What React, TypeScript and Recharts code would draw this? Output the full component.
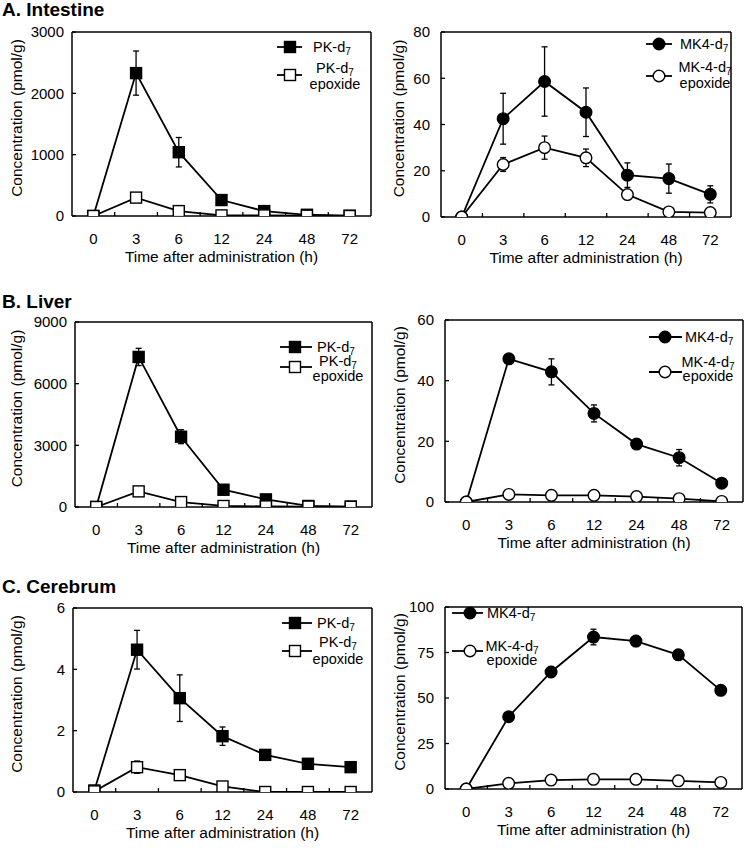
import React from "react";
import { LineChart, Line, XAxis, YAxis, ErrorBar, Legend } from "recharts";

const times = ["0", "3", "6", "12", "24", "48", "72"];

// A. Intestine
const pkIntestine = [0, 2330, 1040, 260, 80, 20, 5];
const pkIntestineSd = [0, 360, 240, 40, 20, 5, 0];
const pkEpoxIntestine = [0, 300, 80, 10, 10, 5, 0];
const pkEpoxIntestineSd = [0, 40, 20, 0, 0, 0, 0];
const mkIntestine = [0, 42.5, 58.6, 45.3, 18.1, 16.6, 9.8];
const mkIntestineSd = [0, 11, 15, 10.5, 5.3, 6.3, 3.7];
const mkEpoxIntestine = [0, 22.7, 30, 25.6, 9.7, 2.2, 1.9];
const mkEpoxIntestineSd = [0, 3, 5, 3.8, 1, 0.3, 0.3];

// B. Liver
const pkLiver = [0, 7300, 3420, 840, 370, 50, 20];
const pkLiverSd = [0, 420, 340, 80, 40, 10, 0];
const pkEpoxLiver = [0, 760, 240, 50, 30, 20, 10];
const pkEpoxLiverSd = [0, 60, 30, 0, 0, 0, 0];
const mkLiver = [0, 47.2, 42.9, 29.2, 19.1, 14.6, 6.2];
const mkLiverSd = [0, 0.6, 4.3, 2.8, 1.4, 2.7, 0.5];
const mkEpoxLiver = [0, 2.5, 2.2, 2.2, 1.8, 1.1, 0.2];
const mkEpoxLiverSd = [0, 0.3, 0.3, 0.3, 0.2, 0.2, 0];

// C. Cerebrum
const pkCerebrum = [0.05, 4.64, 3.06, 1.82, 1.21, 0.92, 0.81];
const pkCerebrumSd = [0, 0.63, 0.76, 0.3, 0.08, 0.06, 0.05];
const pkEpoxCerebrum = [0.02, 0.81, 0.55, 0.18, 0, 0, 0];
const pkEpoxCerebrumSd = [0, 0.2, 0.05, 0.03, 0, 0, 0];
const mkCerebrum = [0, 39.7, 64.3, 83.5, 81.3, 73.7, 54.2];
const mkCerebrumSd = [0, 1, 3, 4.3, 3, 1.5, 1];
const mkEpoxCerebrum = [0, 3.1, 4.9, 5.3, 5.3, 4.5, 3.6];
const mkEpoxCerebrumSd = [0, 0.3, 0.4, 0.4, 0.3, 0.3, 0.2];

const ticksIntestinePk = [0, 1000, 2000, 3000];
const ticksIntestineMk = [0, 20, 40, 60, 80];
const ticksLiverPk = [0, 3000, 6000, 9000];
const ticksLiverMk = [0, 20, 40, 60];
const ticksCerebrumPk = [0, 2, 4, 6];
const ticksCerebrumMk = [0, 25, 50, 75, 100];

const FONT = "'Liberation Sans', Arial, sans-serif";
const XH = 56;

const rows = (a: number[], aSd: number[], b: number[], bSd: number[]) =>
  times.map((t, i) => ({ time: t, main: a[i], mainSd: aSd[i], epox: b[i], epoxSd: bSd[i] }));

function squareDot(filled: boolean) {
  return (p: any) => {
    if (p.cx == null || p.cy == null) return <g key={p.index} />;
    return (
      <rect
        key={p.index}
        x={p.cx - 5.5}
        y={p.cy - 5.5}
        width={11}
        height={11}
        fill={filled ? "#000" : "#fff"}
        stroke="#000"
        strokeWidth={1.4}
      />
    );
  };
}

function Marker({ kind, filled, x, y }: any) {
  if (kind === "square")
    return <rect x={x - 5.5} y={y - 5.5} width={11} height={11} fill={filled ? "#000" : "#fff"} stroke="#000" strokeWidth={1.4} />;
  return <circle cx={x} cy={y} r={5.8} fill={filled ? "#000" : "#fff"} stroke="#000" strokeWidth={1.4} />;
}

function Sub7({ name }: { name: string }) {
  return (
    <>
      {name}
      <tspan fontSize={10} dy={3}>7</tspan>
    </>
  );
}

function LegendBox({ cfg, kind, name1, name2, sx, sy, sw, sh }: any) {
  const ox = (v: number) => v - sx;
  const oy = (v: number) => v - sy;
  return (
    <svg width={sw} height={sh} style={{ position: "absolute", left: 0, top: 0, fontFamily: FONT }}>
      <line x1={ox(cfg.lx0)} x2={ox(cfg.lx1)} y1={oy(cfg.y1)} y2={oy(cfg.y1)} stroke="#000" strokeWidth={1.8} />
      <Marker kind={kind} filled x={ox(cfg.mx)} y={oy(cfg.y1)} />
      <text x={ox(cfg.tx)} y={oy(cfg.y1) + 5} fontSize={14.5} fill="#000">
        <Sub7 name={name1} />
      </text>
      <line x1={ox(cfg.lx0)} x2={ox(cfg.lx1)} y1={oy(cfg.y2)} y2={oy(cfg.y2)} stroke="#000" strokeWidth={1.8} />
      <Marker kind={kind} filled={false} x={ox(cfg.mx)} y={oy(cfg.y2)} />
      <text x={ox(cfg.t2x)} y={oy(cfg.t2y1) + 5} fontSize={14.5} fill="#000" textAnchor="middle">
        <Sub7 name={name2} />
      </text>
      <text x={ox(cfg.t2x)} y={oy(cfg.t2y2) + 5} fontSize={14.5} fill="#000" textAnchor="middle">
        epoxide
      </text>
    </svg>
  );
}

function Panel({ data, ticks, yMax, box, org, kind, legend, tickGap, ylabX }: any) {
  const { x0, y0, x1, y1 } = box;
  const { sx, sy, sw, sh } = org;
  const pw = x1 - x0;
  const bw = pw / times.length;
  // the top x axis and right y axis each take 1px to draw the frame
  const margin = { top: y0 - sy - 1, right: sx + sw - x1 - 1, left: 0, bottom: sy + sh - y1 - XH };
  const isSquare = kind === "square";
  const name1 = isSquare ? "PK-d" : "MK4-d";
  const name2 = isSquare ? "PK-d" : "MK-4-d";
  const axisStyle = { stroke: "#000", strokeWidth: 1.5 };
  const renderTick = (p: any) => {
    const axisY = p.y - 17;
    return (
      <g key={p.index}>
        <text x={p.x} y={p.y} dy="0.71em" textAnchor="middle" fontSize={15} fill="#000" fontFamily={FONT}>
          {p.payload.value}
        </text>
        {p.index < times.length - 1 && (
          <line x1={p.x + bw / 2} x2={p.x + bw / 2} y1={axisY} y2={axisY - 4} stroke="#000" strokeWidth={1.3} />
        )}
      </g>
    );
  };
  return (
    <div style={{ position: "absolute", left: sx, top: sy, width: sw, height: sh }}>
      <LineChart width={sw} height={sh} data={data} margin={margin} style={{ fontFamily: FONT }}>
        <XAxis
          xAxisId="top"
          orientation="top"
          dataKey="time"
          height={1}
          tick={false}
          tickLine={false}
          axisLine={axisStyle}
          padding={{ left: bw / 2, right: bw / 2 }}
        />
        <YAxis
          yAxisId="right"
          orientation="right"
          width={1}
          type="number"
          domain={[0, 1]}
          tick={false}
          tickLine={false}
          axisLine={axisStyle}
        />
        <XAxis
          dataKey="time"
          height={XH}
          tickLine={false}
          tickSize={0}
          tickMargin={17}
          tick={renderTick}
          interval={0}
          axisLine={axisStyle}
          padding={{ left: bw / 2, right: bw / 2 }}
          label={{ value: "Time after administration (h)", position: "insideBottom", offset: 10, fontSize: 15.5, fill: "#000" }}
        />
        <YAxis
          type="number"
          width={x0 - sx}
          domain={[0, yMax]}
          ticks={ticks}
          allowDataOverflow
          interval={0}
          tickSize={-4}
          tickMargin={4 + tickGap}
          tickLine={{ stroke: "#000", strokeWidth: 1.3 }}
          axisLine={axisStyle}
          tick={{ fontSize: 15, fill: "#000" }}
          label={{
            value: "Concentration (pmol/g)",
            angle: -90,
            position: "insideLeft",
            offset: ylabX - sx,
            dy: -6,
            fontSize: 15.5,
            fill: "#000",
            style: { textAnchor: "middle" },
          }}
        />
        <Legend
          layout="horizontal"
          verticalAlign="middle"
          align="center"
          wrapperStyle={{ left: 0, top: 0, width: sw, height: sh, pointerEvents: "none" }}
          content={() => <LegendBox cfg={legend} kind={kind} name1={name1} name2={name2} sx={sx} sy={sy} sw={sw} sh={sh} />}
        />
        <Line
          dataKey="main"
          stroke="#000"
          strokeWidth={1.8}
          isAnimationActive={false}
          dot={isSquare ? squareDot(true) : { r: 5.8, fill: "#000", stroke: "#000", strokeWidth: 1.4 }}
          activeDot={false}
        >
          <ErrorBar dataKey="mainSd" width={3} stroke="#000" strokeWidth={1.3} direction="y" />
        </Line>
        <Line
          dataKey="epox"
          stroke="#000"
          strokeWidth={1.8}
          isAnimationActive={false}
          dot={isSquare ? squareDot(false) : { r: 5.8, fill: "#fff", stroke: "#000", strokeWidth: 1.4 }}
          activeDot={false}
        >
          <ErrorBar dataKey="epoxSd" width={3} stroke="#000" strokeWidth={1.3} direction="y" />
        </Line>
      </LineChart>
    </div>
  );
}

const titleStyle: React.CSSProperties = {
  position: "absolute",
  left: 2,
  fontFamily: FONT,
  fontWeight: "bold",
  fontSize: 19,
  lineHeight: "19px",
  whiteSpace: "nowrap",
};

export default function App() {
  return (
    <div style={{ position: "absolute", left: 0, top: 0, width: 745, height: 864, background: "#fff", fontFamily: FONT }}>
      <div style={{ ...titleStyle, top: 0 }}>A. Intestine</div>
      <div style={{ ...titleStyle, top: 292 }}>B. Liver</div>
      <div style={{ ...titleStyle, top: 577 }}>C. Cerebrum</div>

      <Panel
        data={rows(pkIntestine, pkIntestineSd, pkEpoxIntestine, pkEpoxIntestineSd)}
        ticks={ticksIntestinePk}
        yMax={3000}
        box={{ x0: 72, y0: 32, x1: 371, y1: 216 }}
        org={{ sx: 0, sy: 0, sw: 373, sh: 280 }}
        kind="square"
        tickGap={8}
        ylabX={16}
        legend={{ lx0: 277, lx1: 302, mx: 290, y1: 47, y2: 75, tx: 313, t2x: 335, t2y1: 68, t2y2: 84 }}
      />
      <Panel
        data={rows(mkIntestine, mkIntestineSd, mkEpoxIntestine, mkEpoxIntestineSd)}
        ticks={ticksIntestineMk}
        yMax={80}
        box={{ x0: 441, y0: 32, x1: 731, y1: 217 }}
        org={{ sx: 373, sy: 0, sw: 372, sh: 280 }}
        kind="circle"
        tickGap={11}
        ylabX={398}
        legend={{ lx0: 646, lx1: 672, mx: 659, y1: 44, y2: 76, tx: 680, t2x: 705, t2y1: 67, t2y2: 83 }}
      />
      <Panel
        data={rows(pkLiver, pkLiverSd, pkEpoxLiver, pkEpoxLiverSd)}
        ticks={ticksLiverPk}
        yMax={9000}
        box={{ x0: 75, y0: 322, x1: 372, y1: 507 }}
        org={{ sx: 0, sy: 288, sw: 373, sh: 280 }}
        kind="square"
        tickGap={8}
        ylabX={16}
        legend={{ lx0: 280, lx1: 312, mx: 295, y1: 347, y2: 367, tx: 317, t2x: 338, t2y1: 361, t2y2: 376 }}
      />
      <Panel
        data={rows(mkLiver, mkLiverSd, mkEpoxLiver, mkEpoxLiverSd)}
        ticks={ticksLiverMk}
        yMax={60}
        box={{ x0: 445, y0: 320, x1: 743, y1: 502 }}
        org={{ sx: 373, sy: 288, sw: 372, sh: 280 }}
        kind="circle"
        tickGap={11}
        ylabX={399}
        legend={{ lx0: 649, lx1: 682, mx: 665, y1: 337, y2: 372, tx: 685, t2x: 708, t2y1: 362, t2y2: 376 }}
      />
      <Panel
        data={rows(pkCerebrum, pkCerebrumSd, pkEpoxCerebrum, pkEpoxCerebrumSd)}
        ticks={ticksCerebrumPk}
        yMax={6}
        box={{ x0: 73, y0: 608, x1: 372, y1: 792 }}
        org={{ sx: 0, sy: 576, sw: 373, sh: 288 }}
        kind="square"
        tickGap={8}
        ylabX={16}
        legend={{ lx0: 282, lx1: 312, mx: 295, y1: 623, y2: 651, tx: 317, t2x: 338, t2y1: 642, t2y2: 659 }}
      />
      <Panel
        data={rows(mkCerebrum, mkCerebrumSd, mkEpoxCerebrum, mkEpoxCerebrumSd)}
        ticks={ticksCerebrumMk}
        yMax={100}
        box={{ x0: 445, y0: 607, x1: 742, y1: 789 }}
        org={{ sx: 373, sy: 576, sw: 372, sh: 288 }}
        kind="circle"
        tickGap={11}
        ylabX={399}
        legend={{ lx0: 452, lx1: 483, mx: 470, y1: 613, y2: 651, tx: 487, t2x: 512, t2y1: 646, t2y2: 660 }}
      />
    </div>
  );
}
